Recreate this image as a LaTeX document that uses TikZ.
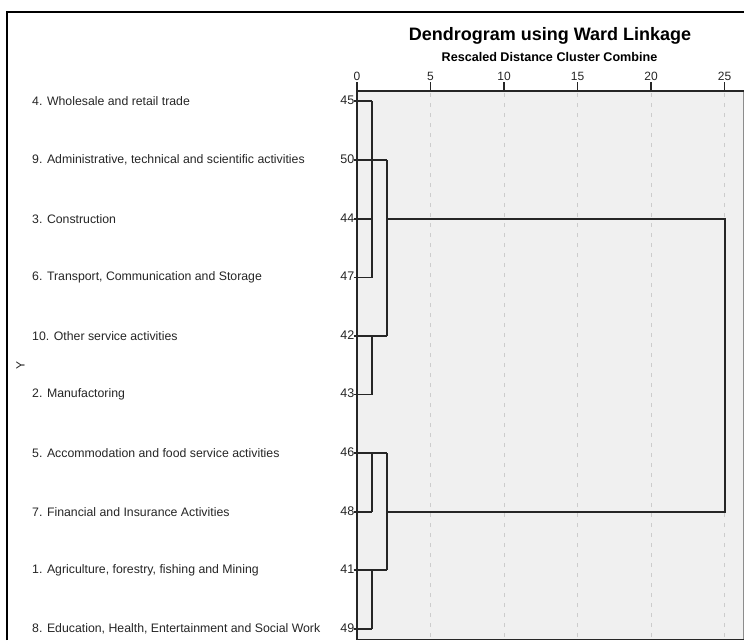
\documentclass[tikz,border=0pt]{standalone}
\usepackage{fontspec}
\setmainfont{Liberation Sans}
\begin{document}
\begin{tikzpicture}[x=1pt,y=-1pt,
  lbl/.style={anchor=west,inner sep=0pt,font=\fontsize{12.3}{14}\selectfont,text=black!85},
  num/.style={anchor=east,inner sep=0pt,font=\fontsize{12.5}{14}\selectfont,text=black!85},
  tick/.style={anchor=base,inner sep=0pt,font=\fontsize{12}{14}\selectfont,text=black!85},
  grid/.style={draw=black!20,line width=1pt,dash pattern=on 4pt off 6pt},
  axisline/.style={draw=black!85,line width=1.3pt},
  tree/.style={draw=black!85,line width=1.4pt}]
\useasboundingbox (0,0) rectangle (744,640);
\fill[white] (0,0) rectangle (744,640);
% plot area
\fill[black!6] (357,91) rectangle (743,639);
\foreach \u in {5,10,15,20,25}{
  \draw[grid] ({357+14.7*\u},93) -- ({357+14.7*\u},639);
}
\draw[black!45,line width=1pt] (743,91) -- (743,639);
\draw[axisline] (357,91) -- (744,91);
\draw[axisline] (357,91) -- (357,639.5) -- (744,639.5);
\foreach \u in {0,5,10,15,20,25}{
  \draw[axisline] ({357+14.7*\u},91) -- ({357+14.7*\u},82);
  \node[tick] (t\u) at ({357+14.7*\u},80.3) {\u};
}
% titles
\node[inner sep=0pt,font=\fontsize{18}{20}\selectfont\bfseries] (title) at (550,36) {Dendrogram using Ward Linkage};
\node[inner sep=0pt,font=\fontsize{12.6}{14}\selectfont\bfseries] (sub) at (549.5,57) {Rescaled Distance Cluster Combine};
% outer frame
\draw[line width=1.7pt] (7,640) -- (7,12) -- (744,12);
% axis label
\node[inner sep=0pt,rotate=90,font=\fontsize{12}{14}\selectfont,text=black!85] (ylab) at (20.5,365) {Y};
% leaves
\foreach \n/\t/\y in {45/{4. Wholesale and retail trade}/101,
  50/{9. Administrative, technical and scientific activities}/160,
  44/{3. Construction}/219,
  47/{6. Transport, Communication and Storage}/277.5,
  42/{10. Other service activities}/336,
  43/{2. Manufactoring}/394.5,
  46/{5. Accommodation and food service activities}/453,
  48/{7. Financial and Insurance Activities}/512,
  41/{1. Agriculture, forestry, fishing and Mining}/570,
  49/{8. Education, Health, Entertainment and Social Work}/629}{
  \node[lbl] (lab\n) at (32,\y) {\t};
  \node[num] (n\n) at (354.5,\y-1) {\n};
  \coordinate (p\n) at (353.5,\y);
}
% merge coordinates
\coordinate (a) at (372,0);
\coordinate (b) at (387,0);
\coordinate (c) at (725,0);
% top group
\draw[tree] (p45) -- (p45 -| a);
\draw[tree] (p50) -- (p50 -| b);
\draw[tree] (p44) -- (p44 -| a);
\draw[tree] (p47) -- (p47 -| a);
\draw[tree] (p45 -| a) -- (p47 -| a);
\draw[tree] (p50 -| b) -- (p42 -| b);
\draw[tree] (p42) -- (p42 -| b);
\draw[tree] (p43) -- (p43 -| a);
\draw[tree] (p42 -| a) -- (p43 -| a);
% bottom group
\draw[tree] (p46) -- (p46 -| b);
\draw[tree] (p48) -- (p48 -| a);
\draw[tree] (p46 -| a) -- (p48 -| a);
\draw[tree] (p46 -| b) -- (p41 -| b);
\draw[tree] (p41) -- (p41 -| b);
\draw[tree] (p49) -- (p49 -| a);
\draw[tree] (p41 -| a) -- (p49 -| a);
% top-level merge
\draw[tree] (p44 -| b) -- (p44 -| c) -- (p48 -| c) -- (p48 -| b);
\end{tikzpicture}
\end{document}
